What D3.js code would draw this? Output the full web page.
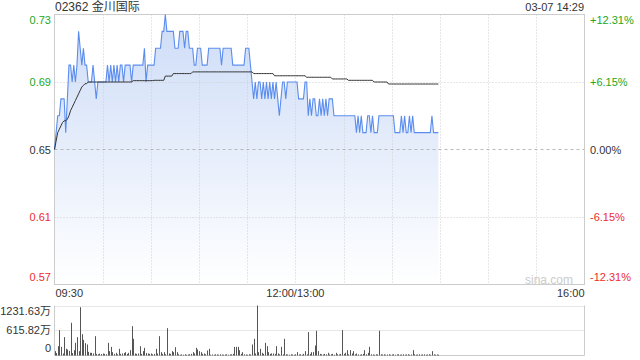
<!DOCTYPE html>
<html>
<head>
<meta charset="utf-8">
<script src="https://cdn.jsdelivr.net/npm/d3@7"></script>
<style>
  body { margin: 0; background: #fff; }
  text { font-family: "Liberation Sans", "Noto Sans CJK SC", sans-serif; }
</style>
</head>
<body>
<div id="chart"></div>
<script>
// minute-by-minute price, 09:30 .. 14:29
const price = [
  0.65,0.66,0.67,0.67,0.68,0.68,0.68,0.66,0.68,0.70,
  0.70,0.69,0.70,0.69,0.70,0.72,0.71,0.70,0.71,0.70,
  0.70,0.69,0.69,0.69,0.70,0.69,0.68,0.69,0.69,0.69,
  0.69,0.69,0.69,0.70,0.69,0.70,0.69,0.70,0.69,0.70,
  0.69,0.70,0.70,0.69,0.70,0.70,0.70,0.70,0.69,0.70,
  0.70,0.70,0.70,0.70,0.70,0.70,0.71,0.69,0.70,0.70,
  0.70,0.70,0.70,0.71,0.71,0.71,0.71,0.72,0.72,0.73,
  0.72,0.72,0.72,0.72,0.72,0.71,0.71,0.71,0.72,0.72,
  0.72,0.71,0.72,0.72,0.71,0.71,0.71,0.70,0.70,0.71,
  0.71,0.71,0.70,0.70,0.70,0.70,0.71,0.71,0.71,0.71,
  0.71,0.71,0.71,0.71,0.70,0.71,0.71,0.71,0.71,0.71,
  0.71,0.70,0.70,0.70,0.70,0.70,0.70,0.70,0.70,0.71,
  0.71,0.71,0.70,0.69,0.68,0.69,0.68,0.69,0.69,0.68,
  0.69,0.68,0.69,0.68,0.69,0.68,0.69,0.68,0.69,0.68,
  0.67,0.68,0.69,0.69,0.68,0.69,0.69,0.69,0.69,0.69,
  0.69,0.69,0.68,0.68,0.68,0.68,0.69,0.69,0.67,0.68,
  0.67,0.68,0.68,0.67,0.67,0.68,0.67,0.68,0.67,0.68,
  0.67,0.68,0.68,0.68,0.67,0.67,0.67,0.67,0.67,0.67,
  0.67,0.67,0.67,0.67,0.67,0.67,0.67,0.67,0.66,0.67,
  0.66,0.67,0.66,0.66,0.66,0.67,0.67,0.66,0.67,0.66,
  0.66,0.66,0.67,0.67,0.67,0.67,0.67,0.67,0.67,0.67,
  0.67,0.67,0.66,0.66,0.66,0.66,0.67,0.66,0.67,0.66,
  0.66,0.67,0.66,0.67,0.66,0.66,0.66,0.66,0.66,0.66,
  0.66,0.66,0.66,0.66,0.66,0.67,0.66,0.66,0.66,0.66
];

// average price line
const avgPrice = [
  0.650,0.655,0.660,0.662,0.664,0.666,0.667,0.667,0.668,0.670,
  0.673,0.675,0.677,0.679,0.681,0.683,0.685,0.687,0.688,0.689,
  0.689,0.690,0.690,0.690,0.690,0.690,0.690,0.690,0.690,0.690,
  0.690,0.690,0.690,0.690,0.690,0.690,0.690,0.690,0.690,0.690,
  0.690,0.690,0.690,0.690,0.690,0.690,0.690,0.690,0.690,0.6908,
  0.6908,0.6908,0.6908,0.6908,0.6908,0.6908,0.6908,0.6908,0.6908,0.6908,
  0.6908,0.6908,0.691,0.691,0.691,0.691,0.691,0.691,0.691,0.6935,
  0.6935,0.6935,0.6935,0.6935,0.695,0.695,0.695,0.695,0.695,0.695,
  0.695,0.695,0.695,0.695,0.695,0.695,0.696,0.696,0.696,0.696,
  0.696,0.696,0.696,0.696,0.696,0.696,0.696,0.696,0.696,0.696,
  0.696,0.696,0.696,0.696,0.696,0.696,0.696,0.696,0.696,0.696,
  0.696,0.696,0.696,0.696,0.696,0.696,0.696,0.696,0.696,0.696,
  0.696,0.696,0.696,0.696,0.695,0.695,0.695,0.695,0.695,0.695,
  0.695,0.695,0.695,0.695,0.695,0.695,0.695,0.6937,0.6937,0.6937,
  0.6937,0.6937,0.6937,0.6937,0.6937,0.6937,0.6937,0.6937,0.6937,0.6937,
  0.6937,0.6937,0.6937,0.6937,0.6937,0.6937,0.6937,0.6928,0.6928,0.6928,
  0.6928,0.6928,0.6928,0.6928,0.6928,0.6928,0.6928,0.6928,0.6928,0.6928,
  0.6928,0.6928,0.6928,0.6918,0.6918,0.6918,0.6918,0.6918,0.6918,0.6918,
  0.6918,0.6918,0.6918,0.691,0.691,0.691,0.691,0.691,0.691,0.691,
  0.691,0.691,0.691,0.691,0.691,0.691,0.691,0.691,0.691,0.690,
  0.690,0.690,0.690,0.690,0.690,0.690,0.690,0.690,0.6888,0.6888,
  0.6888,0.6888,0.6888,0.6888,0.6888,0.6888,0.6888,0.6888,0.6888,0.6888,
  0.6888,0.6888,0.6888,0.6888,0.6888,0.6888,0.6888,0.6888,0.6888,0.6888,
  0.6888,0.6888,0.6888,0.6888,0.6888,0.6888,0.6888,0.6888,0.6888,0.6888
];

// volume per minute, in 万
const volume = [
  107,60,230,624,213,50,452,164,148,115,
  805,60,131,312,452,107,1190,525,386,304,
  271,90,66,66,50,476,40,30,45,35,
  50,40,30,312,107,213,82,40,66,30,
  164,40,50,60,82,40,66,131,722,410,
  50,40,50,230,40,107,189,60,50,40,
  50,30,40,164,50,476,82,40,82,30,
  673,50,40,107,82,205,82,30,20,25,
  20,30,20,25,30,40,82,50,189,148,
  107,82,40,50,30,123,164,20,25,20,
  30,25,20,30,25,20,25,30,20,25,
  30,40,213,213,213,131,40,82,30,25,
  20,30,25,271,410,50,1231.63,82,164,66,
  40,312,230,82,40,50,50,40,230,50,
  30,213,30,410,30,25,20,30,25,20,
  30,82,25,30,20,40,107,30,575,40,
  82,82,246,608,107,40,30,25,40,30,
  66,25,30,40,20,66,30,25,40,624,
  40,66,131,30,131,50,107,30,50,25,
  20,30,40,131,30,66,213,30,25,20,
  30,25,608,30,25,30,20,25,30,20,
  25,30,20,25,30,20,25,30,20,25,
  30,20,25,131,30,20,25,30,20,25,
  30,20,25,30,20,107,30,20,25,20
];

const priceTicks = [0.73, 0.69, 0.65, 0.61, 0.57];
const pctLabels = ["+12.31%", "+6.15%", "0.00%", "-6.15%", "-12.31%"];
const timeTicks = [0, 150, 330];
const timeLabels = ["09:30", "12:00/13:00", "16:00"];
const volTicks = [1231.63, 615.82, 0];
const volLabels = ["1231.63万", "615.82万", "0"];

const prevClose = 0.65;
const GREEN = "#22a822", RED = "#ee2c2c", DARK = "#333";

const svg = d3.select("#chart").append("svg")
    .attr("width", 640).attr("height", 360);

const x = d3.scaleLinear().domain([0, 330]).range([54.5, 584.5]);
const y = d3.scaleLinear().domain([0.57, 0.73]).range([284.5, 14.5]);
const yv = d3.scaleLinear().domain([0, 1231.63]).range([355.5, 305.5]);

function tickColor(v) {
    if (Math.abs(v - prevClose) < 1e-9) return DARK;
    return v > prevClose ? GREEN : RED;
}

// gradient under price line
const grad = svg.append("defs").append("linearGradient")
    .attr("id", "fillGrad")
    .attr("gradientUnits", "userSpaceOnUse")
    .attr("x1", 0).attr("y1", y(0.73)).attr("x2", 0).attr("y2", y(0.57));
grad.append("stop").attr("offset", 0).attr("stop-color", "#cddcf7");
grad.append("stop").attr("offset", 1).attr("stop-color", "#ffffff");

svg.append("path")
    .datum(price)
    .attr("fill", "url(#fillGrad)")
    .attr("d", d3.area().x((d, i) => x(i)).y0(y(0.57)).y1(d => y(d)));

// grid
const grid = svg.append("g");
grid.selectAll("line.v")
    .data(d3.range(30, 330, 30))
    .enter().append("line")
    .attr("x1", d => Math.round(x(d)) + 0.5).attr("x2", d => Math.round(x(d)) + 0.5)
    .attr("y1", y(0.73)).attr("y2", y(0.57))
    .attr("stroke", "#cfcfcf").attr("stroke-dasharray", "1,2");
grid.selectAll("line.h")
    .data(priceTicks.slice(1, -1))
    .enter().append("line")
    .attr("x1", x(0)).attr("x2", x(330))
    .attr("y1", d => Math.round(y(d)) + 0.5).attr("y2", d => Math.round(y(d)) + 0.5)
    .attr("stroke", d => d === prevClose ? "#b8b8b8" : "#cfcfcf")
    .attr("stroke-dasharray", d => d === prevClose ? "3,3" : "1,2");

svg.append("rect")
    .attr("x", x(0)).attr("y", y(0.73))
    .attr("width", x(330) - x(0)).attr("height", y(0.57) - y(0.73))
    .attr("fill", "none").attr("stroke", "#cccccc");

// price and average lines
svg.append("path")
    .datum(price)
    .attr("fill", "none").attr("stroke", "#5b8def").attr("stroke-width", 1.1)
    .attr("d", d3.line().x((d, i) => x(i)).y(d => y(d)));

svg.append("path")
    .datum(avgPrice)
    .attr("fill", "none").attr("stroke", "#333").attr("stroke-width", 1)
    .attr("d", d3.line().x((d, i) => x(i)).y(d => y(d)));

// price labels
const labelY = v => Math.min(Math.max(y(v), 20), 277) + 4;
svg.selectAll("text.pl")
    .data(priceTicks)
    .enter().append("text")
    .attr("x", 51).attr("y", d => labelY(d))
    .attr("text-anchor", "end").attr("font-size", 11)
    .attr("fill", d => tickColor(d))
    .text(d => d.toFixed(2));

svg.selectAll("text.pr")
    .data(priceTicks)
    .enter().append("text")
    .attr("x", 590).attr("y", d => labelY(d))
    .attr("font-size", 11)
    .attr("fill", d => tickColor(d))
    .text((d, i) => pctLabels[i]);

// time labels
svg.selectAll("text.t")
    .data(timeTicks)
    .enter().append("text")
    .attr("x", (d, i) => i === 0 ? x(d) + 1 : x(d))
    .attr("y", 297)
    .attr("text-anchor", (d, i) => ["start", "middle", "end"][i])
    .attr("font-size", 11).attr("fill", DARK)
    .text((d, i) => timeLabels[i]);

svg.append("text")
    .attr("x", 573).attr("y", 284)
    .attr("text-anchor", "end").attr("font-size", 12).attr("fill", "#cccccc")
    .text("sina.com");

// header
svg.append("text")
    .attr("x", 55).attr("y", 11)
    .attr("font-size", 12).attr("fill", DARK)
    .text("02362 金川国际");
svg.append("text")
    .attr("x", 584).attr("y", 11)
    .attr("text-anchor", "end").attr("font-size", 11).attr("fill", DARK)
    .text("03-07 14:29");

// volume panel
const vol = svg.append("g");
vol.selectAll("line.vg")
    .data(volTicks.slice(0, 2))
    .enter().append("line")
    .attr("x1", x(0)).attr("x2", x(330))
    .attr("y1", d => Math.round(yv(d)) + 0.5).attr("y2", d => Math.round(yv(d)) + 0.5)
    .attr("stroke", "#cfcfcf").attr("stroke-dasharray", "1,1");
vol.append("path")
    .attr("d", `M${x(0)},${yv(1231.63)}V${yv(0)}H${x(330)}V${yv(1231.63)}`)
    .attr("fill", "none").attr("stroke", "#cccccc");

vol.selectAll("line.bar")
    .data(volume)
    .enter().append("line")
    .attr("x1", (d, i) => Math.round(x(i)) + 0.5).attr("x2", (d, i) => Math.round(x(i)) + 0.5)
    .attr("y1", yv(0)).attr("y2", d => yv(d))
    .attr("stroke", "#555");

const volLabelY = [311, 330, 348];
vol.selectAll("text.vl")
    .data(volTicks)
    .enter().append("text")
    .attr("x", 51).attr("y", (d, i) => volLabelY[i] + 4)
    .attr("text-anchor", "end").attr("font-size", 11).attr("fill", DARK)
    .text((d, i) => volLabels[i]);
</script>
</body>
</html>
